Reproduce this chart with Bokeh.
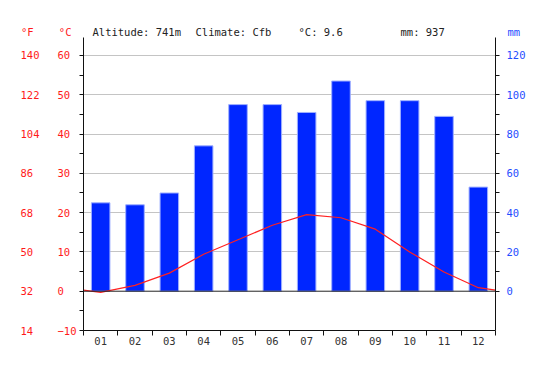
from bokeh.plotting import figure
from bokeh.layouts import column
from bokeh.models import Range1d, LinearAxis, FixedTicker, Label, Span
from bokeh.embed import file_html
from bokeh.resources import INLINE

# ---- data ----
months = ["01", "02", "03", "04", "05", "06", "07", "08", "09", "10", "11", "12"]
precip_mm = [45, 44, 50, 74, 95, 95, 91, 107, 97, 97, 89, 53]
temp_c = [-0.3, 1.5, 4.6, 9.4, 13.1, 16.8, 19.5, 18.7, 15.8, 10.0, 4.9, 0.9]
c_ticks = [-10, 0, 10, 20, 30, 40, 50, 60]
f_ticks = [14, 32, 50, 68, 86, 104, 122, 140]
mm_ticks = [0, 20, 40, 60, 80, 100, 120]
altitude = "741m"
climate = "Cfb"
mean_temp = "9.6"
total_mm = "937"

FONT = "DejaVu Sans Mono"
FS = "10.5px"
RED = "#ff1a1a"
BLUE = "#1f4dff"
NB = "\u00a0"

# ---- header strip ----
hdr = figure(width=550, height=37, output_backend="svg", toolbar_location=None,
             x_range=Range1d(83, 495), y_range=Range1d(0, 37),
             x_axis_type=None, y_axis_type=None,
             min_border_left=83, min_border_right=55, min_border_top=0, min_border_bottom=0)
hdr.outline_line_color = None
hdr.xgrid.visible = False
hdr.ygrid.visible = False

HY = 6.0
def unit_axis(side, text, standoff, color):
    ax = LinearAxis(ticker=FixedTicker(ticks=[HY], minor_ticks=[]))
    ax.major_label_overrides = {HY: text}
    ax.axis_line_color = None
    ax.major_tick_line_color = None
    ax.minor_tick_line_color = None
    ax.major_tick_out = 0
    ax.major_tick_in = 0
    ax.major_label_standoff = standoff
    ax.major_label_text_font = FONT
    ax.major_label_text_font_size = FS
    ax.major_label_text_color = color
    hdr.add_layout(ax, side)

unit_axis("left", "\u00b0F" + NB * 4 + "\u00b0C", 12, RED)
unit_axis("right", "mm", 12, BLUE)

def lab(xpos, text, color):
    hdr.add_layout(Label(x=xpos, y=0, text=text,
                         text_font=FONT, text_font_size=FS, text_color=color,
                         text_baseline="bottom", text_align="left", y_offset=0))

lab(92, "Altitude: " + altitude, "#222222")
lab(195, "Climate: " + climate, "#222222")
lab(298, "\u00b0C: " + mean_temp, "#222222")
lab(400, "mm: " + total_mm, "#222222")

# ---- main chart ----
c_lo, c_hi = -10, 64.58
p = figure(width=550, height=330, output_backend="svg", toolbar_location=None,
           x_range=Range1d(0.5, 12.5), y_range=Range1d(c_lo, c_hi),
           min_border_left=83, min_border_right=55, min_border_top=0, min_border_bottom=37)
p.extra_y_ranges = {"mm": Range1d(c_lo * 2, c_hi * 2), "F": Range1d(c_lo * 1.8 + 32, c_hi * 1.8 + 32)}
p.outline_line_color = None
p.background_fill_color = "white"
p.border_fill_color = "white"

p.xgrid.visible = False
p.ygrid.ticker = FixedTicker(ticks=[t for t in c_ticks if t > 0])
p.ygrid.grid_line_color = "#c4c4c4"
p.ygrid.grid_line_width = 1

x = list(range(1, 13))

p.vbar(x=x, top=precip_mm, bottom=0, width=0.54, y_range_name="mm",
       fill_color="#0026ff", line_color="#9fb0ff", line_width=1)

p.add_layout(Span(location=0, dimension="width", line_color="#222222", line_width=1))

edge = (temp_c[0] + temp_c[-1]) / 2
p.line(x=[0.5] + x + [12.5], y=[edge] + temp_c + [edge], line_color="#ff2020", line_width=1.2)

# x axis
xa = p.xaxis[0]
xa.ticker = FixedTicker(ticks=x, minor_ticks=[i + 0.5 for i in range(0, 13)])
xa.major_label_overrides = {i + 1: m for i, m in enumerate(months)}
xa.major_tick_out = 0
xa.major_tick_in = 0
xa.minor_tick_out = 5
xa.minor_tick_in = 0
xa.major_label_standoff = 1
xa.axis_line_color = "#111111"
xa.minor_tick_line_color = "#111111"
xa.major_label_text_font = FONT
xa.major_label_text_font_size = FS
xa.major_label_text_color = "#333333"

def pad(s, n=3):
    return s + NB * (n - len(s))

# °C axis (left, inner)
ya = p.yaxis[0]
ya.ticker = FixedTicker(ticks=c_ticks, minor_ticks=[t + 5 for t in c_ticks[:-1]])
ya.major_label_overrides = {t: pad(str(t).replace("-", "\u2212")) for t in c_ticks}
ya.major_tick_out = 4
ya.major_tick_in = 0
ya.minor_tick_out = 4
ya.minor_tick_in = 0
ya.major_label_standoff = 3
ya.axis_line_color = "#111111"
ya.major_tick_line_color = "#111111"
ya.minor_tick_line_color = "#111111"
ya.major_label_text_font = FONT
ya.major_label_text_font_size = FS
ya.major_label_text_color = RED

# °F axis (left, outer)
fa = LinearAxis(y_range_name="F", ticker=FixedTicker(ticks=f_ticks, minor_ticks=[]))
fa.major_label_overrides = {t: pad(str(t)) for t in f_ticks}
fa.axis_line_color = None
fa.major_tick_line_color = None
fa.minor_tick_line_color = None
fa.major_tick_out = 0
fa.major_tick_in = 0
fa.major_label_standoff = 15
fa.major_label_text_font = FONT
fa.major_label_text_font_size = FS
fa.major_label_text_color = RED
p.add_layout(fa, "left")

# mm axis (right)
ma = LinearAxis(y_range_name="mm", ticker=FixedTicker(ticks=mm_ticks, minor_ticks=[t + 10 for t in mm_ticks[:-1]]))
ma.major_tick_out = 4
ma.major_tick_in = 0
ma.minor_tick_out = 4
ma.minor_tick_in = 0
ma.major_label_standoff = 7
ma.axis_line_color = "#111111"
ma.major_tick_line_color = "#111111"
ma.minor_tick_line_color = "#111111"
ma.major_label_text_font = FONT
ma.major_label_text_font_size = FS
ma.major_label_text_color = BLUE
p.add_layout(ma, "right")

layout = column(hdr, p, spacing=0)
open("out.html", "w").write(file_html(layout, INLINE))
